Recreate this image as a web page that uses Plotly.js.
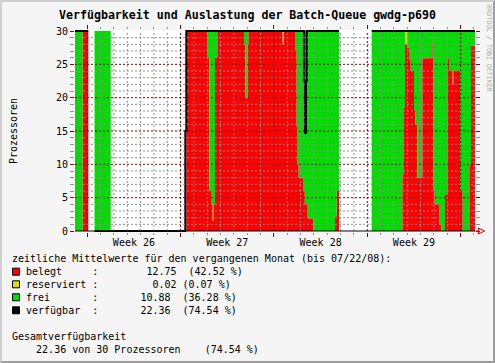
<!DOCTYPE html>
<html><head><meta charset="utf-8">
<script src="https://cdn.plot.ly/plotly-3.0.1.min.js"></script>
<style>
html,body{margin:0;padding:0;background:#f5f5f5;}
#frame{position:absolute;left:0;top:0;width:495px;height:363px;box-sizing:border-box;
 border-top:2px solid #cfcfcf;border-left:2px solid #cfcfcf;border-right:2px solid #9e9e9e;border-bottom:2px solid #9e9e9e;background:#f5f5f5;}
#chart{width:491px;height:359px;}
</style></head><body>
<div id="frame"><div id="chart"></div></div>
<script>
// ---- data (step samples, value holds until next time) ----
const times = [
'2008-06-22 01:54','2008-06-22 15:24','2008-06-23 01:50','2008-06-23 13:00','2008-06-24 18:10',
'2008-06-30 08:26','2008-06-30 10:14','2008-07-01 23:30','2008-07-02 03:38','2008-07-02 06:42',
'2008-07-02 09:46','2008-07-02 11:34','2008-07-02 13:54','2008-07-02 18:02','2008-07-04 18:06',
'2008-07-04 20:26','2008-07-05 00:46','2008-07-05 01:50','2008-07-07 15:46','2008-07-07 17:34',
'2008-07-08 13:54','2008-07-08 16:58','2008-07-08 18:46','2008-07-08 20:34','2008-07-09 04:18',
'2008-07-09 06:28','2008-07-09 07:32','2008-07-09 07:54','2008-07-09 09:42','2008-07-09 11:08',
'2008-07-09 11:30','2008-07-09 13:50','2008-07-09 22:50','2008-07-11 13:54','2008-07-11 16:58',
'2008-07-11 21:06','2008-07-14 07:58','2008-07-16 15:02','2008-07-16 18:06','2008-07-16 19:54',
'2008-07-17 00:02','2008-07-17 03:06','2008-07-17 06:10','2008-07-17 12:06','2008-07-17 14:26',
'2008-07-17 18:02','2008-07-17 21:38','2008-07-18 00:10','2008-07-18 03:02','2008-07-18 19:14',
'2008-07-18 21:46','2008-07-18 22:40','2008-07-19 01:22','2008-07-19 10:22','2008-07-19 13:14',
'2008-07-19 19:54','2008-07-20 00:02','2008-07-20 03:06','2008-07-20 09:46','2008-07-20 12:06',
'2008-07-20 22:54','2008-07-21 03:46','2008-07-21 15:38','2008-07-21 18:42','2008-07-22 01:54'];
const belegt = [0,30,0,0,0, 0,30,26,6,4, 1.5,4,26,30,28, 20,28,30,28,30, 27.2,15.7,10,8,6,
 6,4,4,4,4, 2.2,1.8,0,2.2,6, 0,0,8.5,18.5,28, 27.5,25.7,24,18.2,16, 8,17.4,8,25.9,28.2,
 25.9,6,4,1,0, 5.5,25.9,24,22,24, 6,0,10,27.8,27.8];
const reserviert = [0,0,0,0,0, 0,0,0,0,0, 0,0,0,0,0, 0,0,0,2,0, 0,0,0,0,0,
 0,0,0,0,0, 0,0,0,0,0, 0,0,0,0,2, 0,0,0,0,0, 0,0,0,0,0,
 0,0,0,0,0, 0,0,0,0,0, 0,0,0,0,0];
const frei = [30,0,0,30,0, 0,0,4,24,26, 28.5,26,4,0,2, 10,2,0,0,0, 2.8,14.3,20,22,24,
 24,26,26,26,26, 27.8,28.2,30,27.8,24, 0,30,21.5,11.5,0, 2.5,4.3,6,11.8,14, 22,12.6,22,4.1,1.8,
 4.1,24,26,29,30, 24.5,4.1,6,8,6, 24,30,20,2.2,2.2];
const verfuegbar = [30,30,null,0,0, 15,30,30,30,30, 30,30,30,30,30, 30,30,30,30,30, 30,30,30,30,30,
 22.5,22.5,14.7,22.5,30, 30,30,30,30,30, null,30,30,30,30, 30,30,30,30,30, 30,30,30,30,30,
 30,30,30,30,30, 30,30,30,30,30, 30,30,30,30,30];

const seriesNames = ['belegt','reserviert','frei','verfügbar'];
const seriesColors = ['#ff0000','#e0e000','#00dc00','#000000'];
const legendRows = [
 'belegt     :        12.75  (42.52 %)',
 'reserviert :         0.02 (0.07 %)',
 'frei       :       10.88  (36.28 %)',
 'verfügbar  :       22.36  (74.54 %)'];
const headerText = 'zeitliche Mittelwerte für den vergangenen Monat (bis 07/22/08):';
const totalTitle = 'Gesamtverfügbarkeit';
const totalText = '    22.36 von 30 Prozessoren    (74.54 %)';
const chartTitle = 'Verfügbarkeit und Auslastung der Batch-Queue gwdg-p690';
const yTitle = 'Prozessoren';
const creditText = 'RRDTOOL / TOBI OETIKER';

// ---- helpers ----
const MONO = 'DejaVu Sans Mono';
const nb = s => s.replace(/ /g, '\u00a0');
const PL = 75, PW = 400, PB = 232, PH = 202;   // plot area in page pixels
const fx = X => (X - PL) / PW;
const fy = Y => (PB - Y) / PH;

// verfügbar as step line; keep last value up to a gap
const vx = [], vy = [];
for (let i = 0; i < times.length; i++) {
  if (verfuegbar[i] === null && i > 0 && verfuegbar[i-1] !== null) { vx.push(times[i]); vy.push(verfuegbar[i-1]); }
  vx.push(times[i]); vy.push(verfuegbar[i]);
}

const traces = [
 {x: times, y: belegt, name: seriesNames[0], type: 'scatter', mode: 'lines', stackgroup: 'a',
  line: {shape: 'hv', width: 0, color: seriesColors[0]}, fillcolor: seriesColors[0], hoverinfo: 'skip'},
 {x: times, y: reserviert, name: seriesNames[1], type: 'scatter', mode: 'lines', stackgroup: 'a',
  line: {shape: 'hv', width: 0, color: seriesColors[1]}, fillcolor: seriesColors[1], hoverinfo: 'skip'},
 {x: times, y: frei, name: seriesNames[2], type: 'scatter', mode: 'lines', stackgroup: 'a',
  line: {shape: 'hv', width: 0, color: seriesColors[2]}, fillcolor: seriesColors[2], hoverinfo: 'skip'},
 {x: vx, y: vy, name: seriesNames[3], type: 'scatter', mode: 'lines', connectgaps: false,
  line: {shape: 'hv', width: 2, color: seriesColors[3]}, hoverinfo: 'skip'}
];

// ---- grid drawn above the areas (as rrdtool does) ----
const shapes = [];
const GRID = '#8f8f8f', MGRID = '#800000';
const t0 = times[0], t1 = times[times.length-1];
for (let k = 1; k < 30; k++) {
  shapes.push({type:'line', layer:'above', xref:'x', yref:'y', x0:t0, x1:t1, y0:k, y1:k,
    line:{color: k % 5 === 0 ? MGRID : GRID, width:1, dash:'2px,2px'}});
}
for (let d = 0; d < 31; d++) {
  const dt = new Date(Date.UTC(2008, 5, 22 + d));
  const s = dt.toISOString().slice(0,10) + ' 00:00';
  if (s <= t0 || s >= t1) continue;
  const major = dt.getUTCDay() === 1;
  shapes.push({type:'line', layer:'above', xref:'x', yref:'y', x0:s, x1:s, y0:0, y1:30,
    line:{color: major ? MGRID : GRID, width:1, dash:'2px,2px'}});
}
// x axis line at 0 and red arrow
shapes.push({type:'line', layer:'above', xref:'x', yref:'y', x0:t0, x1:t1, y0:0, y1:0, line:{color:'#000000', width:1}});
shapes.push({type:'path', layer:'above', xref:'paper', yref:'paper',
  path:`M ${fx(475)},${fy(231)} L ${fx(478)},${fy(231)}`, line:{color:'#ff0000', width:1}});
shapes.push({type:'path', layer:'above', xref:'paper', yref:'paper',
  path:`M ${fx(478.5)},${fy(228)} L ${fx(484.5)},${fy(231)} L ${fx(478.5)},${fy(234)} Z`,
  line:{color:'#ff0000', width:1}, fillcolor:'rgba(0,0,0,0)'});

// legend squares + texts
const rowY = [271.7, 284.3, 297.3, 310.3];
const annotations = [];
const A = (text, X, Y, opts) => Object.assign({text: nb(text), xref:'paper', yref:'paper', x: fx(X), y: fy(Y),
  xanchor:'left', yanchor:'middle', showarrow:false, borderpad:0, borderwidth:0,
  font:{family: MONO, size: 10, color:'#000'}}, opts || {});
annotations.push(A(headerText, 12.2, 258.3));
legendRows.forEach((r, i) => {
  annotations.push(A(r, 26.2, rowY[i]));
  shapes.push({type:'rect', xref:'paper', yref:'paper', x0: fx(12.5), x1: fx(19.5), y0: fy(rowY[i]+3.5), y1: fy(rowY[i]-3.5),
    fillcolor: seriesColors[i], line:{color:'#000', width:1}});
});
annotations.push(A(totalTitle, 12.2, 336.7));
annotations.push(A(totalText, 12.2, 349.3));
annotations.push({text: creditText, xref:'paper', yref:'paper', x: fx(488.7), y: fy(48), textangle: 90,
  xanchor:'center', yanchor:'middle', showarrow:false, borderpad:0,
  font:{family: MONO, size: 6.6, color:'#a8a8a8'}});

const layout = {
  width: 491, height: 359,
  margin: {l: 73, r: 18, t: 28, b: 129, pad: 0},
  paper_bgcolor: '#f5f5f5', plot_bgcolor: '#ffffff',
  showlegend: false,
  title: {text: chartTitle, xref:'container', yref:'container', x: 0.5, y: 1 - 12.5/359,
    xanchor:'center', yanchor:'middle', font:{family: MONO, size: 11.6, weight: 'bold', color:'#000'}},
  xaxis: {type:'date', range:[t0, t1], showgrid:false, zeroline:false, showline:false,
    tick0:'2008-06-23', dtick: 7*86400000, tickformat:'Week %V', ticklabelmode:'period',
    ticks:'outside', ticklen:4, tickcolor: MGRID, tickwidth:1, mirror:'ticks', ticklabelstandoff: -3,
    tickfont:{family: MONO, size:10, color:'#000'},
    minor:{tick0:'2008-06-23', dtick:86400000, ticks:'outside', ticklen:2, tickcolor: GRID, showgrid:false}},
  yaxis: {range:[-0.15, 30.15], showgrid:false, zeroline:false, showline:false,
    tickmode:'linear', tick0:0, dtick:5, ticks:'outside', ticklen:4, tickcolor: MGRID, mirror:'ticks',
    tickfont:{family: MONO, size:10, color:'#000'},
    minor:{dtick:1, ticks:'outside', ticklen:4, tickcolor: GRID, showgrid:false},
    title:{text: yTitle, standoff: 36, font:{family: MONO, size:10, color:'#000'}}},
  shapes: shapes,
  annotations: annotations
};
Plotly.newPlot('chart', traces, layout, {staticPlot: true, displayModeBar: false});
</script>
</body></html>
